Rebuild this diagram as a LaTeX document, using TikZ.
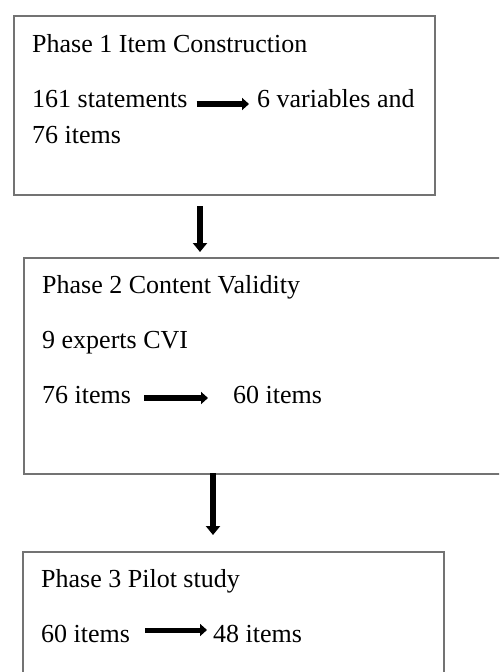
\documentclass[tikz,border=0pt]{standalone}
\usepackage{fontspec}
\setmainfont{Liberation Serif}
\usetikzlibrary{arrows.meta}
\tikzset{>={Triangle[length=7pt, width=12pt]}}
\tikzset{
    phasebox/.style={draw=black!55, line width=1.5pt, anchor=north west, inner sep=0pt},
    txt/.style={anchor=base west, inner sep=0pt, font=\fontsize{26}{30}\selectfont},
    flow/.style={-{Triangle[length=9pt, width=14pt]}, line width=6pt},
    inarrow/.style={->, line width=5.5pt}
}

\begin{document}
\begin{tikzpicture}[x=1pt, y=-1pt]
    \useasboundingbox (0, 0) rectangle (499, 672);
    \clip (0, 0) rectangle (499, 672);
    \node[phasebox, minimum width=421pt, minimum height=179pt](p1)at(13, 15){};
    \node[phasebox, minimum width=500pt, minimum height=216pt](p2)at(23, 257){};
    \node[phasebox, minimum width=421pt, minimum height=150pt](p3)at(22, 551){};
    \node[txt](p1t)at(32, 52){Phase 1 Item Construction};
    \node[txt](s161)at(32, 107){161 statements};
    \node[txt](v6)at(257, 107){6 variables and};
    \node[txt](i76)at(32, 143){76 items};
    \node[txt](p2t)at(42, 293){Phase 2 Content Validity};
    \node[txt](cvi)at(42, 348){9 experts CVI};
    \node[txt](a76)at(42, 403){76 items};
    \node[txt](b60)at(233, 403){60 items};
    \node[txt](p3t)at(41, 587){Phase 3 Pilot study};
    \node[txt](c60)at(41, 642){60 items};
    \node[txt](d48)at(213, 642){48 items};
    \draw[inarrow, shorten <=9pt, shorten >=8pt]([yshift=3pt]s161.base east)--([yshift=3pt]v6.base west);
    \draw[inarrow, shorten <=13pt, shorten >=25pt]([yshift=5pt]a76.base east)--([yshift=5pt]b60.base west);
    \draw[inarrow, line width=5pt, shorten <=15pt, shorten >=6pt]([yshift=12pt]c60.base east)--([yshift=12pt]d48.base west);
    \coordinate(a1)at(200, 206);
    \coordinate(a2)at(213, 473);
    \draw[flow, shorten >=5pt](a1)--(a1 |- p2.north);
    \draw[flow, shorten >=16pt](a2)--(a2 |- p3.north);
\end{tikzpicture}
\end{document}
